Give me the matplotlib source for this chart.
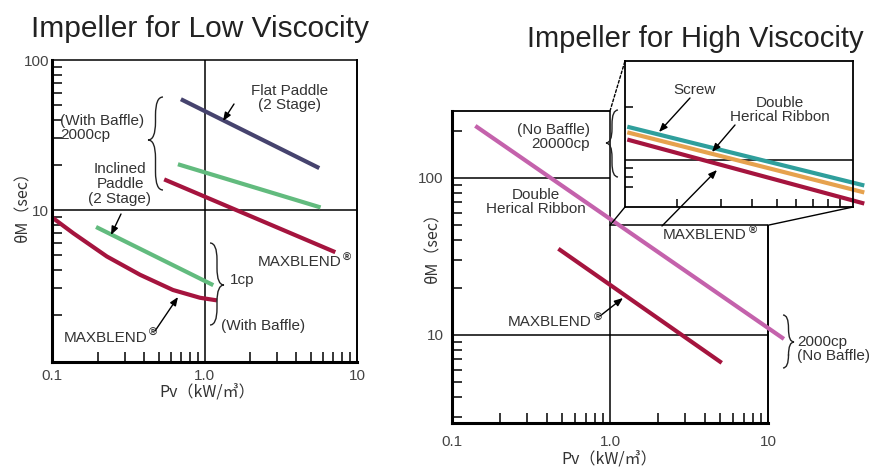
import numpy as np
import matplotlib
matplotlib.use("Agg")
import matplotlib.pyplot as plt
from matplotlib.path import Path
from matplotlib.patches import PathPatch, ConnectionPatch
from matplotlib.ticker import FixedLocator, NullFormatter

plt.rcParams['font.family'] = ['Liberation Sans', 'DejaVu Sans']
CJK = ['Noto Sans CJK JP', 'DejaVu Sans']

W, H = 876, 468

# --- data: left chart (low viscosity) ---
flat_x = [0.72, 5.5]
flat_y = [54, 19.3]
incl_x = [0.69, 5.6]
incl_y = [20.0, 10.5]
mbhi_x = [0.56, 7.0]
mbhi_y = [15.8, 5.3]
incl1_x = [0.2, 1.11]
incl1_y = [7.6, 3.2]
mb1_x = [0.102, 0.138, 0.229, 0.378, 0.621, 0.934, 1.17]
mb1_y = [8.8, 7.0, 4.9, 3.7, 2.93, 2.6, 2.51]

# --- data: right chart (high viscosity) ---
dhr_x = [0.144, 12.3]
dhr_y = [211, 9.6]
mbr_x = [0.483, 4.97]
mbr_y = [34.8, 6.76]
# inset (20000cp)
ins_x = [1.29, 11.0]
screw_y = [154, 72]
dhr20_y = [143, 65.7]
mb20_y = [130, 56.8]

xtick_vals = [0.1, 1.0, 10]
xtick_lbls = ['0.1', '1.0', '10']

c_navy = '#46436e'
c_green = '#62bb7e'
c_red = '#a5143e'
c_pink = '#c462ac'
c_teal = '#2f9f9c'
c_orange = '#e6a24e'
c_txt = '#333333'


def fp(x, y):
    return (x / W, 1 - y / H)


fig = plt.figure(figsize=(W / 100, H / 100), dpi=100)


def rect(x0, y0, x1, y1):
    return [x0 / W, 1 - y1 / H, (x1 - x0) / W, (y1 - y0) / H]


def style_ax(ax, pad_x, pad_y):
    ax.set_xscale('log')
    ax.set_yscale('log')
    ax.tick_params(which='both', direction='in', color='black', width=1.1,
                   labelsize=11, labelcolor='#444444')
    ax.tick_params(which='major', length=0)
    ax.tick_params(which='minor', length=7)
    ax.tick_params(axis='x', pad=pad_x)
    ax.tick_params(axis='y', pad=pad_y)
    ax.xaxis.set_minor_formatter(NullFormatter())
    ax.yaxis.set_minor_formatter(NullFormatter())
    ax.set_xticks(xtick_vals)
    ax.set_xticklabels(xtick_lbls)
    ax.set_yticks([10, 100])
    ax.set_yticklabels(['10', '100'])
    ax.spines['left'].set_linewidth(2.2)
    ax.spines['bottom'].set_linewidth(2.2)
    ax.spines['top'].set_linewidth(1.1)
    ax.spines['right'].set_linewidth(1.4)


# ---------------- left chart ----------------
ax1 = fig.add_axes(rect(52, 60, 357, 362))
style_ax(ax1, 5, 2)
ax1.set_xlim(0.1, 10)
ax1.set_ylim(0.97, 100)
ax1.axvline(1.0, color='black', lw=1.1)
ax1.axhline(10, color='black', lw=1.1)
ax1.plot(flat_x, flat_y, color=c_navy, lw=3)
ax1.plot(incl_x, incl_y, color=c_green, lw=3)
ax1.plot(mbhi_x, mbhi_y, color=c_red, lw=3)
ax1.plot(incl1_x, incl1_y, color=c_green, lw=3)
ax1.plot(mb1_x, mb1_y, color=c_red, lw=3, solid_joinstyle='round')

# ---------------- right chart ----------------
ax2 = fig.add_axes(rect(452, 111, 768, 423))
style_ax(ax2, 9, 6)
ax2.set_xlim(0.1, 10)
ytop = 267
cut = 50
ax2.set_ylim(2.75, ytop)
ax2.spines['top'].set_visible(False)
ax2.spines['right'].set_visible(False)
ax2.hlines(ytop, 0.1, 1.0, color='black', lw=1.3, clip_on=False)
ax2.hlines(cut, 1.0, 10, color='black', lw=1.1, clip_on=False)
ax2.vlines(10, 2.75, cut, color='black', lw=1.4, clip_on=False)
ax2.axvline(1.0, color='black', lw=1.1)
ax2.axhline(10, color='black', lw=1.1)
ax2.hlines(100, 0.1, 1.0, color='black', lw=1.1)
ax2.plot(dhr_x, dhr_y, color=c_pink, lw=3, clip_on=False)
ax2.plot(mbr_x, mbr_y, color=c_red, lw=3)

# ---------------- inset ----------------
axin = fig.add_axes(rect(625, 61, 853, 207))
axin.set_xscale('log')
axin.set_yscale('log')
axin.set_xlim(1.24, 10.1)
axin.set_ylim(53.9, 368)
axin.xaxis.set_major_locator(FixedLocator([2, 3, 4, 5, 6, 7, 8, 9]))
axin.yaxis.set_major_locator(FixedLocator([70, 80, 90, 200]))
axin.xaxis.set_minor_locator(FixedLocator([]))
axin.yaxis.set_minor_locator(FixedLocator([]))
axin.tick_params(which='both', direction='in', length=6, width=1.1,
                 labelbottom=False, labelleft=False)
for s in axin.spines.values():
    s.set_linewidth(1.3)
axin.axhline(100, color='black', lw=1.1)
axin.plot(ins_x, screw_y, color=c_teal, lw=3, clip_on=False)
axin.plot(ins_x, dhr20_y, color=c_orange, lw=3, clip_on=False)
axin.plot(ins_x, mb20_y, color=c_red, lw=3, clip_on=False)

# connectors from the cut-out region to the inset
for xa, ya, xb, yb, ls in [(1.0, ytop, 0, 1, (0, (2, 1.5))),
                           (1.0, cut, 0, 0, '-'),
                           (10, cut, 1, 0, '-')]:
    con = ConnectionPatch(xyA=(xa, ya), coordsA=ax2.transData,
                          xyB=(xb, yb), coordsB=axin.transAxes,
                          color='black', lw=1.0, linestyle=ls)
    fig.add_artist(con)


# ---------------- braces ----------------
def brace(x_end, y0, y1, x_tip, y_tip):
    xm = (x_end + x_tip) / 2
    r = min(abs(x_tip - x_end) * 1.2, (y1 - y0) / 4)
    pts = [(x_end, y0), (xm, y0), (xm, y0 + r),
           (xm, y_tip - r), (xm, y_tip), (x_tip, y_tip),
           (xm, y_tip), (xm, y_tip + r),
           (xm, y1 - r), (xm, y1), (x_end, y1)]
    codes = [Path.MOVETO, Path.CURVE3, Path.CURVE3,
             Path.LINETO, Path.CURVE3, Path.CURVE3,
             Path.CURVE3, Path.CURVE3,
             Path.LINETO, Path.CURVE3, Path.CURVE3]
    verts = [fp(x, y) for x, y in pts]
    fig.add_artist(PathPatch(Path(verts, codes), transform=fig.transFigure,
                             fill=False, lw=1.0, color='#222222'))


brace(163, 97, 190, 148, 140)
brace(210, 243, 325, 224, 285)
brace(618, 110, 177, 606, 143)
brace(783, 315, 368, 794, 342)


# ---------------- text & arrows ----------------
def label(x, y, s, ha='center', size=11, **kw):
    fig.text(x / W, 1 - y / H, s, ha=ha, va='center', fontsize=size,
             color=c_txt, linespacing=1.05, **kw)


def arrow(x0, y0, x1, y1):
    fig.add_artist(matplotlib.patches.FancyArrowPatch(
        fp(x0, y0), fp(x1, y1), transform=fig.transFigure,
        arrowstyle='-|>,head_length=5,head_width=2', color='black',
        lw=1.0, shrinkA=0, shrinkB=0))


def reg(x, y):
    label(x, y, '®', size=8, fontweight='bold')


# left chart
label(290, 98, 'Flat Paddle\n(2 Stage)')
arrow(234, 104, 223, 121)
label(60, 128, '(With Baffle)\n2000cp', ha='left')
label(120, 184, 'Inclined\nPaddle\n(2 Stage)')
arrow(121, 214, 111, 235)
label(300, 262, 'MAXBLEND')
reg(347, 258)
label(230, 280, '1cp', ha='left')
label(221, 326, '(With Baffle)', ha='left')
label(106, 338, 'MAXBLEND')
reg(153, 333)
arrow(155, 331, 178, 297)

# right chart
label(590, 137, '(No Baffle)\n20000cp', ha='right', multialignment='right')
label(536, 202, 'Double\nHerical Ribbon')
label(695, 90, 'Screw')
arrow(690, 98, 659, 132)
label(780, 110, 'Double\nHerical Ribbon')
arrow(735, 125, 712, 152)
label(705, 235, 'MAXBLEND')
reg(753, 231)
arrow(662, 226, 717, 170)
label(550, 322, 'MAXBLEND')
reg(598, 318)
arrow(600, 316, 623, 298)
label(797, 349, '2000cp\n(No Baffle)', ha='left')

# titles
fig.text(200 / W, 1 - 37 / H, 'Impeller for Low Viscocity', ha='center',
         va='baseline', fontsize=21.5, color='#222222')
fig.text(695 / W, 1 - 47 / H, 'Impeller for High Viscocity', ha='center',
         va='baseline', fontsize=21, color='#222222')

# axis labels
fig.text(23 / W, 1 - 203 / H, 'θM（sec）', rotation=90, ha='center',
         va='center', fontsize=11.5, family=CJK, color=c_txt)
fig.text(433 / W, 1 - 244 / H, 'θM（sec）', rotation=90, ha='center',
         va='center', fontsize=11.5, family=CJK, color=c_txt)
fig.text(207 / W, 1 - 393 / H, 'Pv（kW/㎥）', ha='center', va='center',
         fontsize=11.5, family=CJK, color=c_txt)
fig.text(609 / W, 1 - 460 / H, 'Pv（kW/㎥）', ha='center', va='center',
         fontsize=11.5, family=CJK, color=c_txt)

fig.savefig('out.png', dpi=100)
